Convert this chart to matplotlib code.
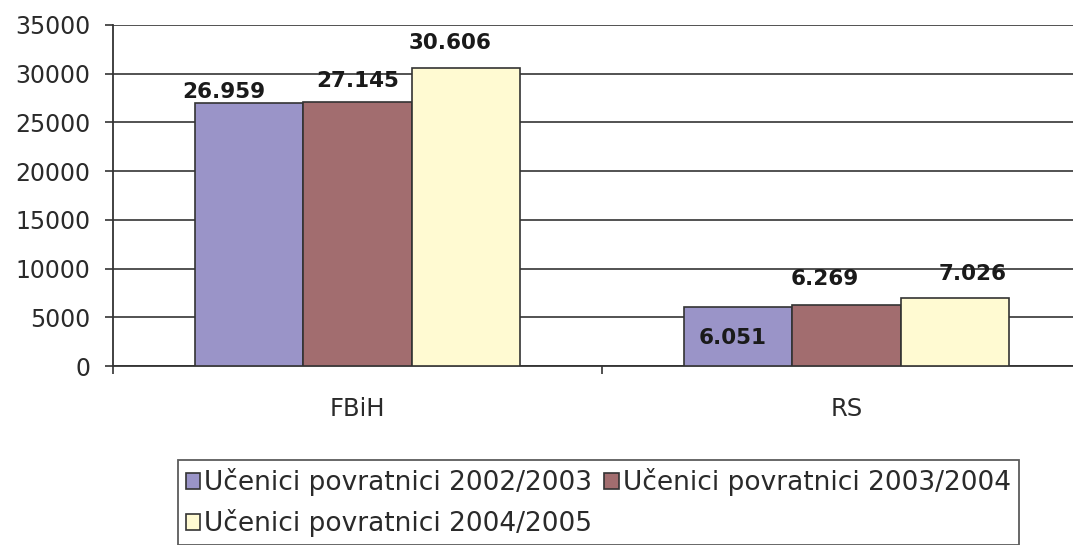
import matplotlib
matplotlib.use("Agg")
from matplotlib import pyplot as plt
import numpy as np

# podaci
kategorije = ["FBiH", "RS"]
serije = ["Učenici povratnici 2002/2003",
          "Učenici povratnici 2003/2004",
          "Učenici povratnici 2004/2005"]
vrijednosti = [[26959, 6051],
               [27145, 6269],
               [30606, 7026]]
oznake = [["26.959", "6.051"],
          ["27.145", "6.269"],
          ["30.606", "7.026"]]

boje = ["#9a94c8", "#a26d6f", "#fffad2"]
# pomak oznaka (px) od vrha stupca
pomaci = [[(-26, 11), (-6, -31)],
          [(0, 21), (-22, 26)],
          [(-16, 25), (18, 24)]]

fig = plt.figure(figsize=(10.73, 5.45), dpi=100)
ax = fig.add_axes([113/1073, 1-366/545, 978/1073, 341/545])

x = np.arange(len(kategorije))
w = 0.221
rukovatelji = []
for i in range(3):
    b = ax.bar(x + (i-1)*w, vrijednosti[i], w, color=boje[i], edgecolor="#333333",
               linewidth=1.2, zorder=3, label=serije[i])
    rukovatelji.append(b)
    for j in range(len(kategorije)):
        ax.annotate(oznake[i][j], (x[j] + (i-1)*w, vrijednosti[i][j]),
                    xytext=pomaci[i][j], textcoords="offset pixels",
                    ha="center", va="center", fontsize=15.5, fontweight="bold",
                    color="#1a1a1a", zorder=5)

ax.set_xlim(-0.5, 1.5)
ax.set_ylim(0, 35000)
ax.set_yticks(np.arange(0, 35001, 5000))
ax.set_xticks([-0.5, 0.5], minor=False)
ax.set_xticklabels(["", ""])
ax.set_xticks(x, minor=True)
ax.set_xticklabels(kategorije, minor=True)
ax.tick_params(axis="x", which="minor", length=0, pad=22, labelsize=17.5, colors="#2a2a2a")
ax.tick_params(axis="x", which="major", length=6, width=1.2, color="#333333")
ax.tick_params(axis="y", length=6, width=1.2, color="#333333", labelsize=17,
               labelcolor="#2a2a2a", pad=10.5)

ax.grid(axis="y", color="#444444", linewidth=1.3, zorder=0)
for s in ["top", "right"]:
    ax.spines[s].set_visible(False)
for s in ["left", "bottom"]:
    ax.spines[s].set_color("#333333")
    ax.spines[s].set_linewidth(1.3)

h = [rukovatelji[0], rukovatelji[2], rukovatelji[1]]
l = [serije[0], serije[2], serije[1]]
leg = fig.legend(h, l, loc="upper left", bbox_to_anchor=(178/1073, 1-460/545),
                 ncol=2, fontsize=19, frameon=True, fancybox=False,
                 handlelength=0.55, handleheight=0.55, handletextpad=0.15,
                 columnspacing=0.45, labelspacing=0.5, borderpad=0.3,
                 borderaxespad=0)
leg.get_frame().set_edgecolor("#333333")
leg.get_frame().set_linewidth(1.3)
for t in leg.get_texts():
    t.set_color("#2a2a2a")

fig.savefig("out.png", dpi=100)
